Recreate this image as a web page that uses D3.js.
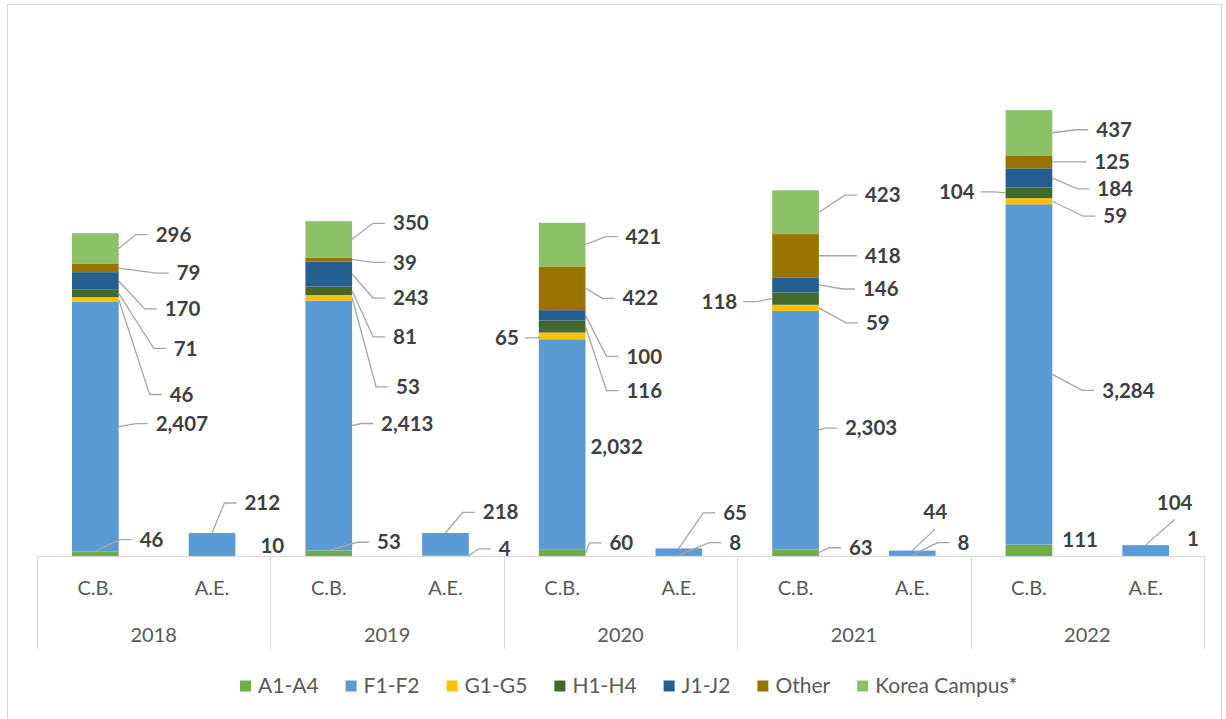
<!DOCTYPE html>
<html>
<head>
<meta charset="utf-8">
<script src="https://cdn.jsdelivr.net/npm/d3@7"></script>
<style>
  html, body { margin: 0; padding: 0; background: #fff; }
  svg { display: block; font-family: Lato, "Open Sans", sans-serif; }
</style>
</head>
<body>
<svg id="chart" width="1226" height="719"></svg>
<script>
// ---------------- data ----------------
const years = ["2018", "2019", "2020", "2021", "2022"];
const groups = ["C.B.", "A.E."];
const seriesNames = ["A1-A4", "F1-F2", "G1-G5", "H1-H4", "J1-J2", "Other", "Korea Campus*"];
const seriesColors = ["#70AD47", "#5B9BD5", "#FFC000", "#43682B", "#255E91", "#997300", "#8CC168"];

// C.B. values per year
const cbA1 = [46, 53, 60, 63, 111];
const cbF1 = [2407, 2413, 2032, 2303, 3284];
const cbG1 = [46, 53, 65, 59, 59];
const cbH1 = [71, 81, 116, 118, 104];
const cbJ1 = [170, 243, 100, 146, 184];
const cbOther = [79, 39, 422, 418, 125];
const cbKorea = [296, 350, 421, 423, 437];

// A.E. values per year
const aeA1 = [10, 4, 8, 8, 1];
const aeF1 = [212, 218, 65, 44, 104];

const yMax = 5000;

// ---------------- label layout (offsets only) ----------------
// [mode, dx, dy]: r = right of bar w/ leader, n = right no leader, l = left w/ leader, a = above (centered) w/ leader
const cbLayout = [
  [["r",21,-14],["r",37,-3],["r",51,95],["r",55,55],["r",46,28],["r",58,5],["r",37,-14]],
  [["r",25,-11],["r",29,-2],["r",44,89],["r",41,46],["r",41,24],["r",41,3],["r",41,-16]],
  [["r",24,-10],["n",5,2],["l",-20,2],["r",41,64],["r",41,41],["r",37,10],["r",40,-8]],
  [["r",30,-5],["r",26,-2],["r",47,15],["l",-35,3],["r",44,4],["r",46,0],["r",46,-17]],
  [["n",10,-10],["r",50,16],["r",51,15],["l",-31,-1],["r",45,11],["r",42,0],["r",44,-3]]
];
const aeLayout = [
  [["n",25,-10],["r",9,-41]],
  [["r",30,-7],["r",14,-32]],
  [["r",27,-13],["r",21,-39]],
  [["r",22,-13],["a",23,-41]],
  [["n",18,-17],["a",29,-48]]
];

// ---------------- build rows ----------------
const cbSeries = [cbA1, cbF1, cbG1, cbH1, cbJ1, cbOther, cbKorea];
const rows = [];
years.forEach((yr, i) => {
  const cb = { year: yr, group: "C.B.", yi: i };
  seriesNames.forEach((s, k) => cb[s] = cbSeries[k][i]);
  rows.push(cb);
  const ae = { year: yr, group: "A.E.", yi: i };
  seriesNames.forEach(s => ae[s] = 0);
  ae["A1-A4"] = aeA1[i];
  ae["F1-F2"] = aeF1[i];
  rows.push(ae);
});

const stacked = d3.stack().keys(seriesNames)(rows);

// ---------------- scales ----------------
const svg = d3.select("#chart");
const x0 = d3.scaleBand().domain(years).range([37, 1204]).padding(0);
const x1 = d3.scaleBand().domain(groups).range([0, x0.bandwidth()]).paddingInner(0.6).paddingOuter(0.3);
const y = d3.scaleLinear().domain([0, yMax]).range([556, 38]);
const fmt = d3.format(",");

// outer frame
svg.append("rect").attr("x", 7.5).attr("y", 4.5).attr("width", 1214).attr("height", 730)
  .attr("fill", "none").attr("stroke", "#D9D9D9").attr("stroke-width", 1);

// bars
const gLayers = svg.append("g");
stacked.forEach((layer, k) => {
  gLayers.append("g").attr("fill", seriesColors[k])
    .selectAll("rect").data(layer.filter(d => d[1] - d[0] > 0)).join("rect")
    .attr("x", d => x0(d.data.year) + x1(d.data.group))
    .attr("width", x1.bandwidth())
    .attr("y", d => y(d[1]))
    .attr("height", d => y(d[0]) - y(d[1]));
});

// axis box
const axisColor = "#D9D9D9";
const ax = svg.append("g");
ax.append("line").attr("x1", x0.range()[0]).attr("x2", x0.range()[1])
  .attr("y1", y(0) + 0.5).attr("y2", y(0) + 0.5).attr("stroke", axisColor);
const edges = years.map(yr => x0(yr)).concat([x0.range()[1]]);
ax.selectAll("line.sep").data(edges).join("line").attr("class", "sep")
  .attr("x1", d => Math.round(d) + 0.5).attr("x2", d => Math.round(d) + 0.5)
  .attr("y1", y(0)).attr("y2", 649).attr("stroke", axisColor);

years.forEach(yr => {
  groups.forEach(g => {
    ax.append("text").attr("x", x0(yr) + x1(g) + x1.bandwidth() / 2).attr("y", 588)
      .attr("dy", "0.35em").attr("text-anchor", "middle")
      .attr("font-size", 20).attr("fill", "#595959").text(g);
  });
  ax.append("text").attr("x", x0(yr) + x0.bandwidth() / 2).attr("y", 635)
    .attr("dy", "0.35em").attr("text-anchor", "middle")
    .attr("font-size", 20).attr("fill", "#595959").text(yr);
});

// data labels with leader lines
const gLead = svg.append("g").attr("fill", "none").attr("stroke", "#A6A6A6").attr("stroke-width", 1.3);
const gLab = svg.append("g").attr("font-size", 20.5).attr("font-weight", 700).attr("fill", "#404040");

stacked.forEach((layer, k) => {
  layer.forEach(d => {
    const v = d[1] - d[0];
    if (v <= 0) return;
    const yi = d.data.yi;
    const isCB = d.data.group === "C.B.";
    const lay = isCB ? cbLayout[yi][k] : aeLayout[yi][k];
    if (!lay) return;
    const [mode, dx, dy] = lay;
    const bx = x0(d.data.year) + x1(d.data.group);
    const bw = x1.bandwidth();
    const bRight = bx + bw, bLeft = bx, bCenter = bx + bw / 2;
    const segTop = y(d[1]), segBot = y(d[0]);
    const mid = (segTop + segBot) / 2;
    const cy = mid + dy;
    const t = gLab.append("text").attr("y", cy).attr("dy", "0.35em").text(fmt(v));
    let pts = null;
    if (mode === "r" || mode === "n") {
      const lx = bRight + dx;
      t.attr("x", lx).attr("text-anchor", "start");
      if (mode === "r") {
        const start = (cy < segTop - 8) ? [bCenter, segTop] : [bRight, mid];
        pts = [start, [Math.max(lx - 20, start[0]), cy], [lx - 8, cy]];
      }
    } else if (mode === "l") {
      const rx = bLeft + dx;
      t.attr("x", rx).attr("text-anchor", "end");
      pts = [[bLeft, mid], [Math.min(rx + 20, bLeft), cy], [rx + 6, cy]];
    } else if (mode === "a") {
      const cx = bCenter + dx;
      t.attr("x", cx).attr("text-anchor", "middle");
      pts = [[bCenter, segTop], [cx, cy + 17]];
    }
    if (pts) gLead.append("path").attr("d", d3.line()(pts));
  });
});

// legend
const leg = svg.append("g").attr("font-size", 21).attr("fill", "#595959");
let lxPos = 240;
const legY = 686;
seriesNames.forEach((s, k) => {
  leg.append("rect").attr("x", lxPos).attr("y", legY - 5.5).attr("width", 11).attr("height", 11)
    .attr("fill", seriesColors[k]);
  const t = leg.append("text").attr("x", lxPos + 18).attr("y", legY).attr("dy", "0.35em").text(s);
  lxPos += 18 + t.node().getComputedTextLength() + 27;
});
</script>
</body>
</html>
